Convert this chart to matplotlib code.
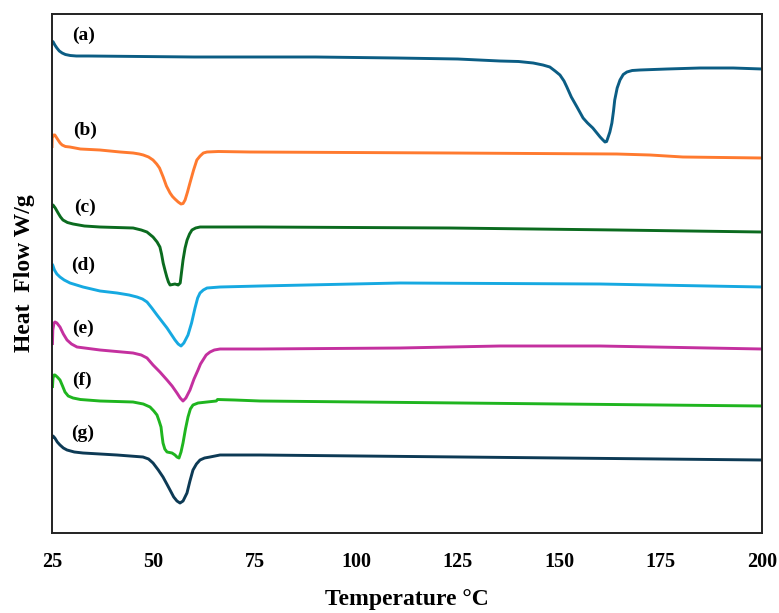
import matplotlib
matplotlib.use("Agg")
import matplotlib.pyplot as plt

plt.rcParams['font.family'] = ['Liberation Serif', 'DejaVu Serif']
plt.rcParams['font.weight'] = 'bold'

# Temperature (°C) / heat flow (a.u., curves stacked)
a_T = [25.0, 25.3, 25.7, 26.2, 26.8, 27.5, 28.3, 29.5, 31.0, 34.0, 60, 90, 110, 125, 135.4, 140.0,
       143.6, 146.0, 147.7, 149.0, 150.2, 151.2, 151.9, 153.0, 154.4, 155.9, 157.0, 158.3, 159.3,
       160.1, 160.8, 161.3, 161.7, 162.0, 162.5, 163.0, 163.4, 163.7, 164.3, 165.0, 165.8, 166.7,
       168.0, 169.9, 176.6, 184.7, 192.9, 200]
a_H = [4.92, 4.91, 4.88, 4.85, 4.82, 4.80, 4.785, 4.775, 4.77, 4.77, 4.76, 4.76, 4.75, 4.74, 4.72, 4.715,
       4.70, 4.68, 4.66, 4.62, 4.58, 4.52, 4.46, 4.36, 4.26, 4.15, 4.10, 4.05, 4.00,
       3.96, 3.93, 3.91, 3.915, 3.95, 4.01, 4.10, 4.22, 4.33, 4.45, 4.53, 4.585, 4.61,
       4.625, 4.63, 4.64, 4.65, 4.65, 4.64]

b_T = [25.0, 25.05, 25.4, 25.7, 26.1, 26.5, 27.0, 27.5, 28.3, 29.4, 32.0, 36.8, 41.8, 45.0, 46.5,
       47.5, 48.8, 49.9, 50.8, 51.5, 52.0, 52.4, 53.2, 54.1, 54.7, 55.3, 56.1, 56.8, 57.3, 57.8,
       58.4, 59.0, 59.9, 60.7, 61.5, 62.3, 63.2, 66.0, 73.8, 123.1, 164.2, 172.4, 180.5, 200]
b_H = [3.85, 3.95, 3.98, 3.98, 3.955, 3.93, 3.90, 3.88, 3.865, 3.86, 3.84, 3.83, 3.81, 3.80, 3.79,
       3.78, 3.76, 3.73, 3.69, 3.65, 3.60, 3.56, 3.47, 3.40, 3.365, 3.34, 3.31, 3.29, 3.295, 3.33,
       3.41, 3.50, 3.63, 3.73, 3.77, 3.80, 3.81, 3.815, 3.81, 3.80, 3.79, 3.78, 3.76, 3.75]

c_T = [25.0, 25.25, 25.8, 26.5, 27.1, 27.7, 28.8, 30.2, 33.0, 36.8, 45.0, 47.0, 48.4, 49.9, 50.9,
       51.6, 52.0, 52.4, 52.9, 53.3, 53.7, 54.1, 54.7, 55.3, 55.7, 56.1, 56.6, 56.9, 57.3, 57.8,
       58.3, 58.9, 59.5, 60.4, 61.5, 76.3, 123.1, 164.2, 200]
c_H = [3.26, 3.28, 3.25, 3.20, 3.16, 3.13, 3.105, 3.09, 3.07, 3.06, 3.05, 3.03, 3.01, 2.96, 2.91,
       2.86, 2.79, 2.70, 2.62, 2.56, 2.51, 2.48, 2.485, 2.49, 2.485, 2.48, 2.50, 2.60, 2.73, 2.85,
       2.93, 2.99, 3.03, 3.05, 3.06, 3.06, 3.05, 3.03, 3.01]

d_T = [25.0, 25.17, 25.6, 26.2, 26.97, 28.0, 29.44, 32.64, 36.83, 41.02, 44.0, 45.95, 47.3, 48.42,
       49.6, 50.88, 53.35, 55.32, 56.1, 56.8, 57.5, 58.52, 59.4, 60.25, 60.9, 61.48, 62.3, 63.21,
       66.41, 76.27, 110.78, 160.08, 200]
d_H = [2.69, 2.68, 2.63, 2.59, 2.56, 2.53, 2.50, 2.46, 2.42, 2.40, 2.38, 2.36, 2.34, 2.31,
       2.25, 2.18, 2.05, 1.93, 1.89, 1.87, 1.90, 1.98, 2.10, 2.25, 2.35, 2.40, 2.43, 2.45,
       2.46, 2.47, 2.50, 2.49, 2.46]

e_T = [25.1, 25.2, 25.5, 25.74, 26.2, 26.97, 27.8, 28.7, 29.8, 31.16, 36.83, 44.97, 47.0, 48.42,
       49.9, 51.6, 53.35, 54.6, 55.8, 56.6, 57.29, 58.0, 59.01, 60.0, 60.99, 61.6, 62.22, 63.0,
       63.95, 65.0, 66.41, 76.27, 110.78, 135.43, 160.08, 200]
e_H = [1.88, 2.03, 2.10, 2.11, 2.10, 2.06, 1.99, 1.93, 1.89, 1.86, 1.83, 1.80, 1.78, 1.75,
       1.68, 1.61, 1.53, 1.47, 1.40, 1.35, 1.32, 1.35, 1.43, 1.54, 1.63, 1.69, 1.73, 1.78,
       1.81, 1.83, 1.84, 1.84, 1.85, 1.87, 1.87, 1.84]

f_T = [25.1, 25.25, 25.5, 25.74, 26.3, 26.97, 27.6, 28.2, 29.0, 30.18, 32.0, 36.83, 44.97, 47.5,
       49.16, 50.1, 50.88, 51.4, 51.87, 52.1, 52.36, 52.8, 53.35, 54.58, 55.32, 55.8, 56.3, 56.8,
       57.29, 57.9, 58.52, 59.1, 59.75, 61.0, 63.21, 65.5, 65.8, 70.0, 76.27, 200]
f_H = [1.45, 1.55, 1.58, 1.58, 1.56, 1.53, 1.47, 1.41, 1.37, 1.35, 1.335, 1.32, 1.31, 1.29,
       1.26, 1.22, 1.18, 1.12, 1.06, 0.98, 0.90, 0.84, 0.81, 0.80, 0.78, 0.76, 0.75, 0.81,
       0.90, 1.04, 1.16, 1.24, 1.28, 1.30, 1.31, 1.32, 1.335, 1.33, 1.32, 1.27]

g_T = [25.1, 25.25, 25.7, 26.3, 26.97, 27.8, 28.7, 30.5, 32.64, 41.02, 47.43, 48.8, 49.9, 51.2,
       52.36, 53.3, 54.09, 55.0, 55.8, 56.55, 57.3, 58.27, 59.0, 59.75, 60.6, 61.48, 62.6, 63.95,
       66.41, 76.27, 200]
g_H = [0.95, 0.97, 0.95, 0.91, 0.88, 0.85, 0.83, 0.81, 0.80, 0.78, 0.76, 0.74, 0.70, 0.63,
       0.56, 0.49, 0.43, 0.36, 0.32, 0.30, 0.32, 0.40, 0.52, 0.63, 0.69, 0.73, 0.75, 0.76,
       0.78, 0.78, 0.73]

series_labels = ['(a)', '(b)', '(c)', '(d)', '(e)', '(f)', '(g)']
label_T = [32.8, 33.1, 33.1, 32.6, 32.6, 32.4, 32.6]
label_H = [4.98, 4.03, 3.26, 2.68, 2.05, 1.53, 1.00]
colors = ['#0b5d84', '#ff7a2f', '#0b6b1f', '#16a9e1', '#c4309f', '#1fb51f', '#0d3a55']

x_ticks = [25, 50, 75, 100, 125, 150, 175, 200]

fig = plt.figure(figsize=(7.79, 6.13), dpi=100)
ax = fig.add_axes([52/779, 80/613, 710/779, 519/613])

curves = [(a_T, a_H), (b_T, b_H), (c_T, c_H), (d_T, d_H), (e_T, e_H), (f_T, f_H), (g_T, g_H)]
for (T, H), col in zip(curves, colors):
    ax.plot(T, H, color=col, lw=2.1, solid_joinstyle='round', solid_capstyle='butt')

for lab, tx, hy in zip(series_labels, label_T, label_H):
    ax.text(tx, hy, lab, ha='center', va='center', fontsize=14, fontweight='bold', color='black')

ax.set_xlim(25, 200)
ax.set_ylim(0, 5.19)
ax.set_xticks(x_ticks)
ax.set_xticklabels([str(t) for t in x_ticks])
ax.set_yticks([])
ax.tick_params(axis='x', length=0, pad=14, labelsize=14.5)
for lbl in ax.get_xticklabels():
    lbl.set_fontweight('bold')
for sp in ax.spines.values():
    sp.set_color('#222222')
    sp.set_linewidth(1.4)

ax.set_xlabel('Temperature °C', fontsize=17, fontweight='bold', labelpad=12)
ax.set_ylabel('Heat  Flow W/g', fontsize=17, fontweight='bold', labelpad=12)

fig.savefig('out.png', dpi=100)
